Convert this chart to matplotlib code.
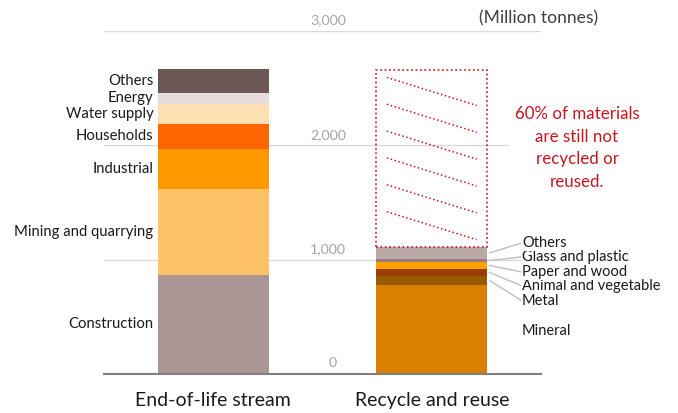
import matplotlib.pyplot as plt

plt.rcParams['font.family'] = ['Lato', 'DejaVu Sans']

# Data (million tonnes)
categories = ["End-of-life stream", "Recycle and reuse"]

eol_labels = ["Construction", "Mining and quarrying", "Industrial", "Households",
              "Water supply", "Energy", "Others"]
eol_values = [866, 752, 350, 219, 175, 96, 210]
eol_colors = ["#AA9692", "#FFC166", "#FF9900", "#FF6600", "#FDE0B1", "#E6DCDB", "#6B5754"]

rec_labels = ["Mineral", "Metal", "Animal and vegetable", "Paper and wood",
              "Glass and plastic", "Others"]
rec_values = [779, 79, 61, 61, 26, 105]
rec_colors = ["#D98000", "#9A5A00", "#993D00", "#FF9F00", "#9E7B7B", "#BBA9A7"]

not_recycled = 1545

yticks = [0, 1000, 2000, 3000]
ytick_labels = ["0", "1,000", "2,000", "3,000"]

# Label y positions for the right stack (layout only)
rec_label_y = [376, 639, 770, 892, 1024, 1146]

red = "#C8161E"
width = 0.508

# Creating the figure
fig = plt.figure(figsize=(6.78, 4.13), dpi=100)
ax = fig.add_axes([104 / 678, 1 - 374 / 413, 437 / 678, 343 / 413])
ax.set_xlim(-0.5, 1.5)
ax.set_ylim(0, 3000)

# Gridlines
for y in yticks[1:]:
    ax.axhline(y, color="#D9D9D9", lw=1, zorder=0)

# Left stack
bottom = 0
for lab, val, col in zip(eol_labels, eol_values, eol_colors):
    ax.bar(0, val, width, bottom=bottom, color=col, zorder=2)
    ax.text(-width / 2 - 0.02, bottom + val / 2, lab, ha="right", va="center",
            fontsize=10.7, color="#1A1A1A", zorder=3)
    bottom += val

# Right stack
bottom = 0
for i, (lab, val, col) in enumerate(zip(rec_labels, rec_values, rec_colors)):
    ax.bar(1, val, width, bottom=bottom, color=col, zorder=2)
    if i == 0:
        ax.text(1.413, rec_label_y[i], lab, ha="left", va="center",
                fontsize=10.5, color="#1A1A1A", zorder=3,
                bbox=dict(fc="white", ec="none", pad=0.5))
    else:
        ax.annotate(lab, xy=(1 + width / 2 + 0.01, bottom + val / 2),
                    xytext=(1.413, rec_label_y[i]), ha="left", va="center",
                    fontsize=10.5, color="#1A1A1A", zorder=3,
                    bbox=dict(fc="white", ec="none", pad=0.5),
                    arrowprops=dict(arrowstyle="-", color="#BFBFBF", lw=1,
                                    shrinkA=0, shrinkB=0, relpos=(0, 0.5)),
                    annotation_clip=False)
    bottom += val

# Not recycled box with dotted hatch lines
rec_total = bottom
ax.bar(1, not_recycled, width, bottom=rec_total, fill=False, edgecolor=red,
       linestyle=":", lw=1.2, zorder=2)
box_top = rec_total + not_recycled
for i in range(6):
    f = 0.04 + i * 0.152
    ax.plot([1 - 0.405 * width, 1 + 0.405 * width],
            [box_top - f * not_recycled, box_top - (f + 0.159) * not_recycled],
            color=red, ls=":", lw=1.1, zorder=2)

ax.text(1.665, 1977, "60% of materials\nare still not\nrecycled or\nreused.",
        ha="center", va="center", fontsize=12.2, color=red, linespacing=1.5,
        zorder=3, bbox=dict(fc="white", ec="none", pad=4))

# Tick labels placed between the bars
for y, lab in zip(yticks, ytick_labels):
    ax.text(0.608 if y > 0 else 0.565, y + 40, lab, ha="right", va="bottom",
            fontsize=10.3, color="#A6A6A6")

ax.text(1.761, 3000 + 40, "(Million tonnes)", ha="right", va="bottom",
        fontsize=12.6, color="#404040")

# Customizing axis
ax.set_xticks([0, 1])
ax.set_xticklabels(categories, fontsize=14, color="#1A1A1A")
ax.tick_params(axis="x", length=0, pad=13)
ax.set_yticks([])
for s in ["top", "left", "right"]:
    ax.spines[s].set_visible(False)
ax.spines["bottom"].set_color("#808080")
ax.spines["bottom"].set_linewidth(1.5)
ax.spines["bottom"].set_zorder(4)

plt.savefig("out.png")
plt.close()
